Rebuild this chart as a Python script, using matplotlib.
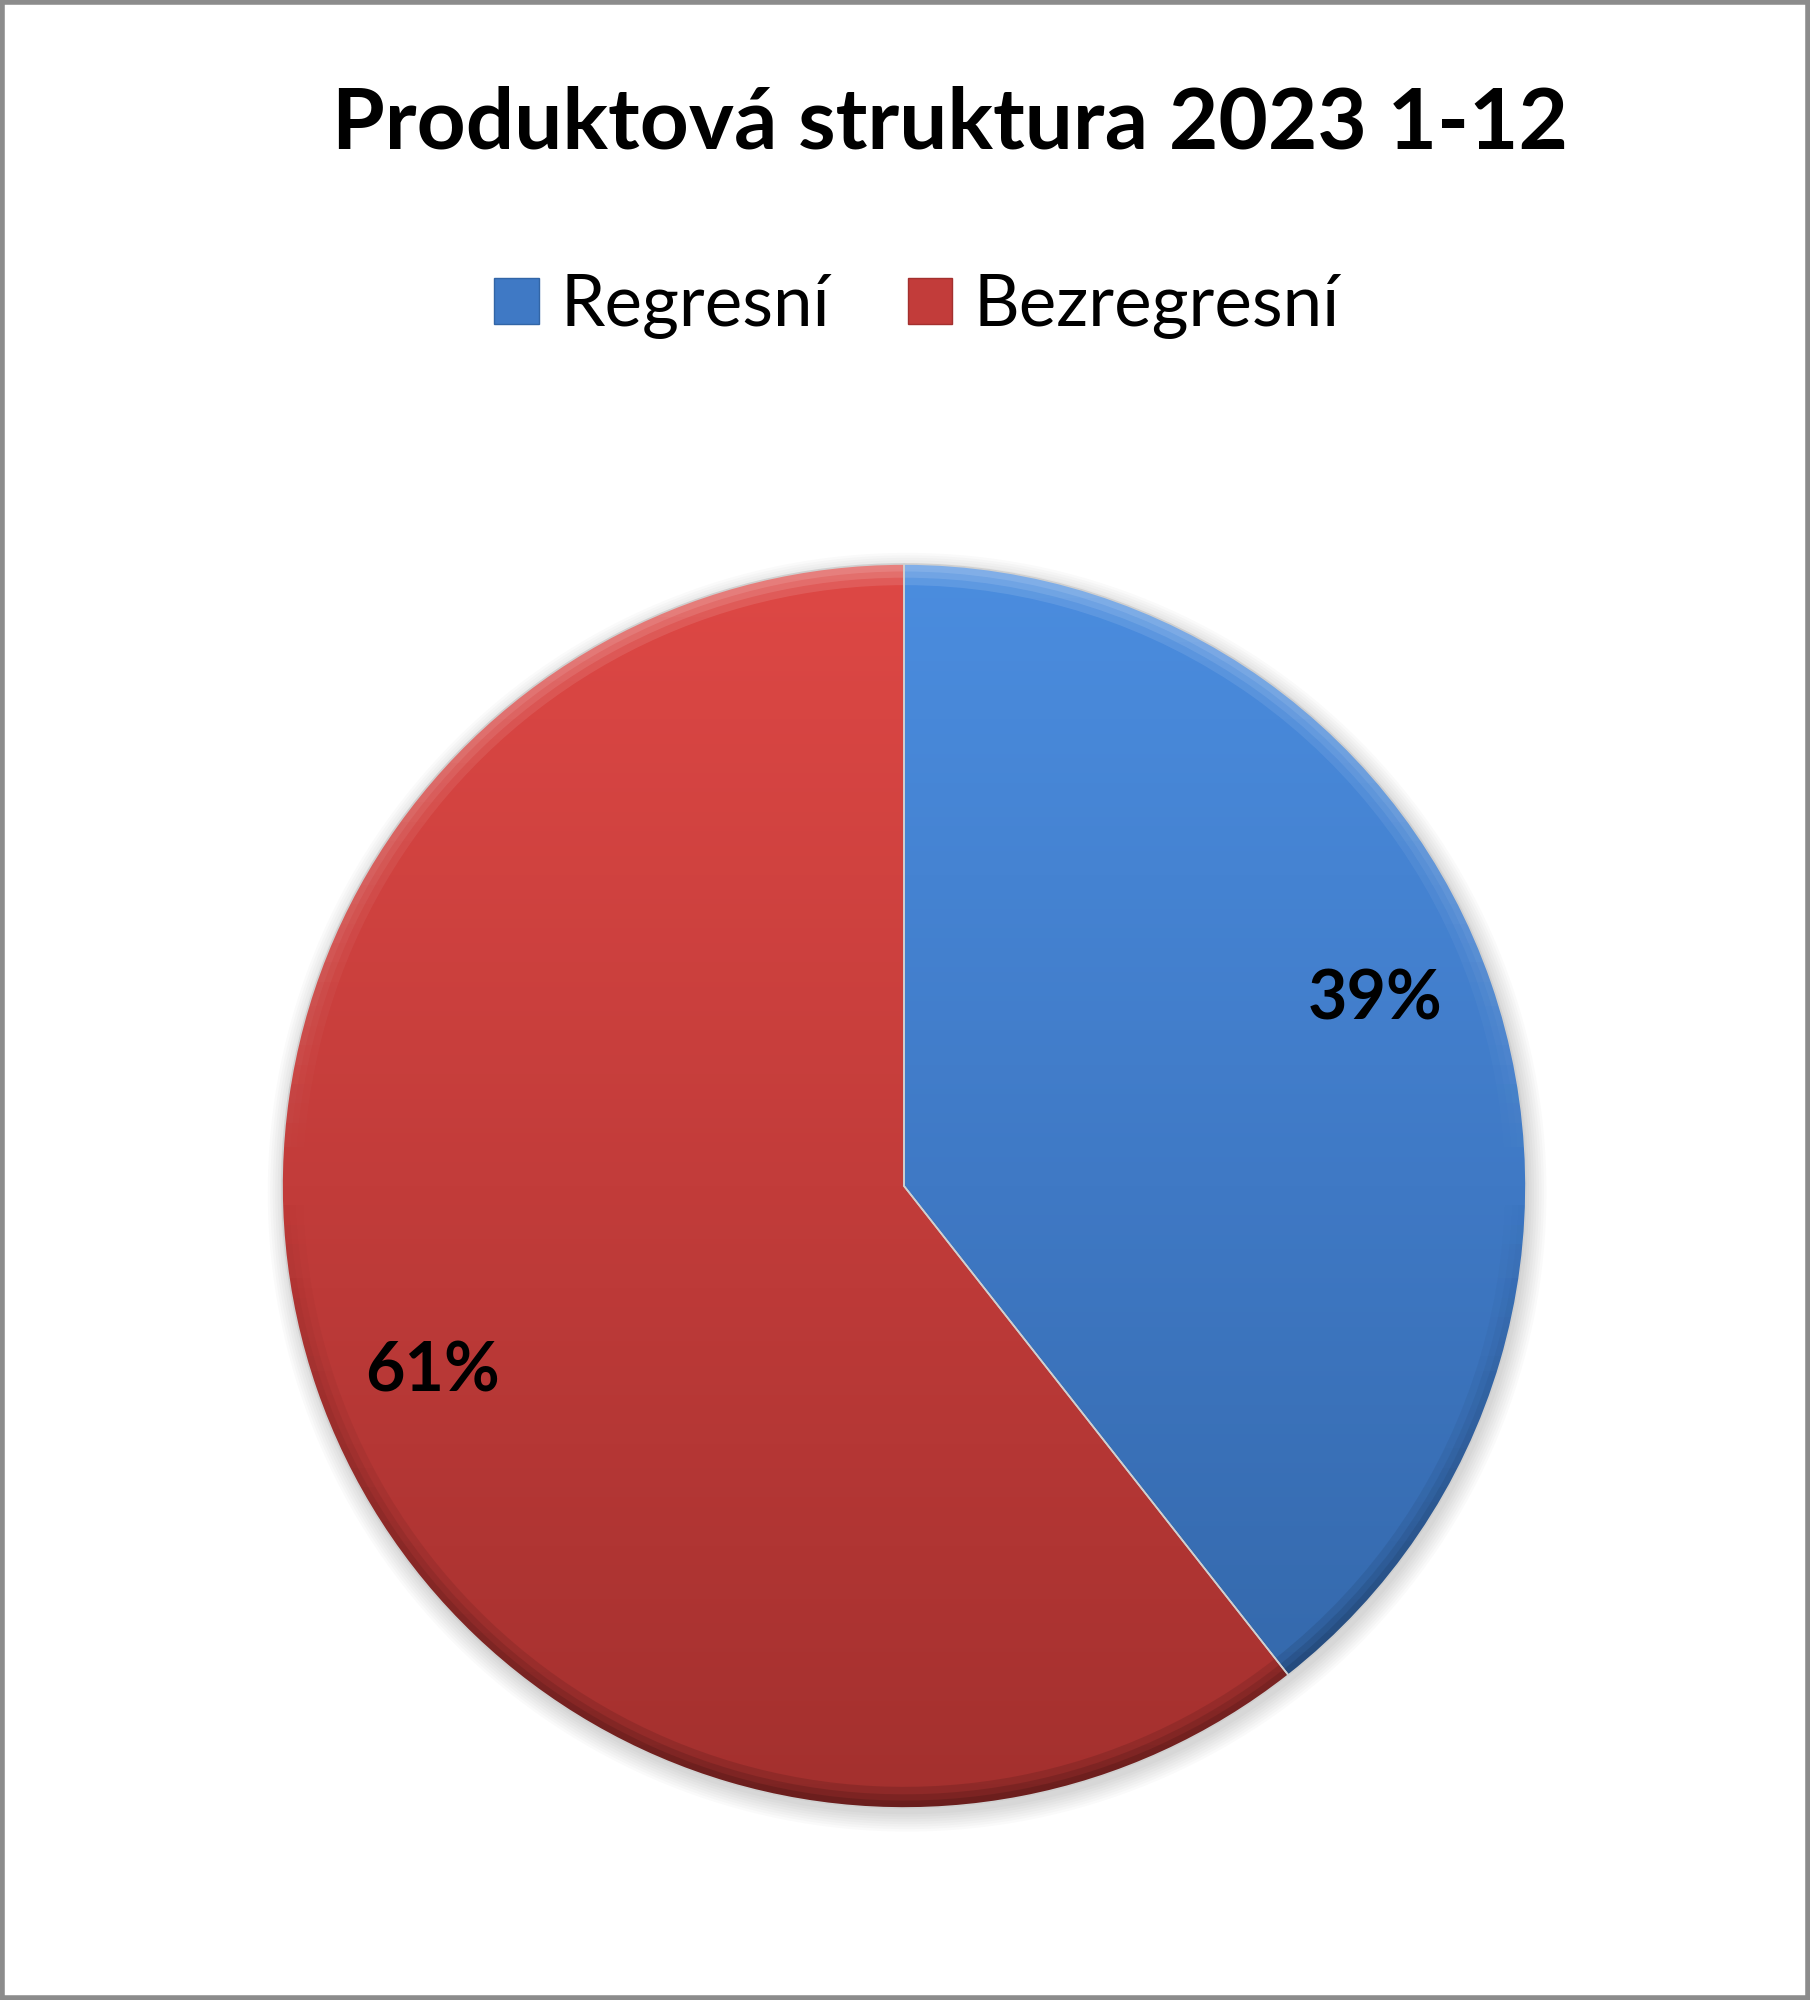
import numpy as np
import matplotlib.pyplot as plt
from matplotlib.patches import Rectangle, Patch, Wedge, Circle
from matplotlib.colors import LinearSegmentedColormap

# data
labels = ["Regresní", "Bezregresní"]
shares = [39.4, 60.6]
title = "Produktová struktura 2023 1-12"

# light (top) / dark (bottom) shade of each slice
top_colors = ["#4b8ddf", "#de4845"]
bottom_colors = ["#3265a6", "#a3302e"]
mid_colors = ["#3f79c5", "#c23c3a"]

plt.rcParams["font.family"] = ["Lato", "DejaVu Sans"]

fig = plt.figure(figsize=(18.1, 20), dpi=100)
fig.patch.set_facecolor("white")

# pie axes, square box centred on the pie
ax = fig.add_axes([0.1558, 0.096, 0.6873, 0.622])

# soft drop shadow under the pie
for k in range(8):
    ax.add_patch(Circle((0.005, -0.010), 1.0 + 0.004 * k, facecolor="black",
                        edgecolor="none", alpha=0.02, zorder=0, clip_on=False))

wedges, texts, autotexts = ax.pie(
    shares,
    colors=mid_colors,
    startangle=90,
    counterclock=False,
    autopct="%.0f%%",
    pctdistance=0.81,
    wedgeprops=dict(linewidth=1.2, edgecolor="#d0d0d0"),
    textprops=dict(fontsize=49, fontweight="bold", color="black"),
)

# vertical gradient inside each slice, plus a soft bevelled rim
grad = np.linspace(1, 0, 256).reshape(-1, 1)
tt = np.linspace(0, 1, 256)  # 0 top, 1 bottom
rim_rgba = np.zeros((256, 1, 4))
rim_rgba[:, 0, :3] = np.where(tt[:, None] < 0.5, 1.0, 0.0)
rim_rgba[:, 0, 3] = np.where(tt < 0.5, 0.12 * (1 - 2 * tt), 0.13 * (2 * tt - 1))

for i, w in enumerate(wedges):
    cmap = LinearSegmentedColormap.from_list(
        f"g{i}", [bottom_colors[i], mid_colors[i], top_colors[i]]
    )
    im = ax.imshow(grad, extent=(-1, 1, -1, 1), cmap=cmap, aspect="auto",
                   origin="upper", zorder=1)
    im.set_clip_path(w)
    w.set_facecolor("none")
    w.set_zorder(3)

    for width in (0.012, 0.022, 0.034):
        rim = Wedge(w.center, w.r, w.theta1, w.theta2, width=width,
                    facecolor="none", edgecolor="none")
        ax.add_patch(rim)
        im2 = ax.imshow(rim_rgba, extent=(-1, 1, -1, 1), aspect="auto",
                        origin="upper", zorder=2)
        im2.set_clip_path(rim)

    # data label slightly rotated along the slice, as in the original
    ang = np.deg2rad((w.theta1 + w.theta2) / 2 + 2.5)
    autotexts[i].set_position((0.815 * np.cos(ang), 0.815 * np.sin(ang)))
    autotexts[i].set_zorder(4)

ax.set_xlim(-1.0, 1.0)
ax.set_ylim(-1.0, 1.0)
ax.set_aspect("equal")
ax.axis("off")

# title
fig.text(950 / 1810, 1 - 124 / 2000, title, ha="center", va="center",
         fontsize=61.5, fontweight="bold")

# legend
handles = [Patch(facecolor=mid_colors[i], edgecolor=bottom_colors[i])
           for i in range(len(labels))]
fig.legend(handles, labels, loc="center", bbox_to_anchor=(917 / 1810, 1 - 306 / 2000),
           ncol=2, frameon=False, fontsize=51, handlelength=0.63,
           handleheight=0.62, handletextpad=0.3, columnspacing=1.1)

# outer border
fig.patches.append(Rectangle((0.001, 0.001), 0.998, 0.998, transform=fig.transFigure,
                             fill=False, edgecolor="#8c8c8c", linewidth=4))

fig.savefig("out.png", dpi=100)
